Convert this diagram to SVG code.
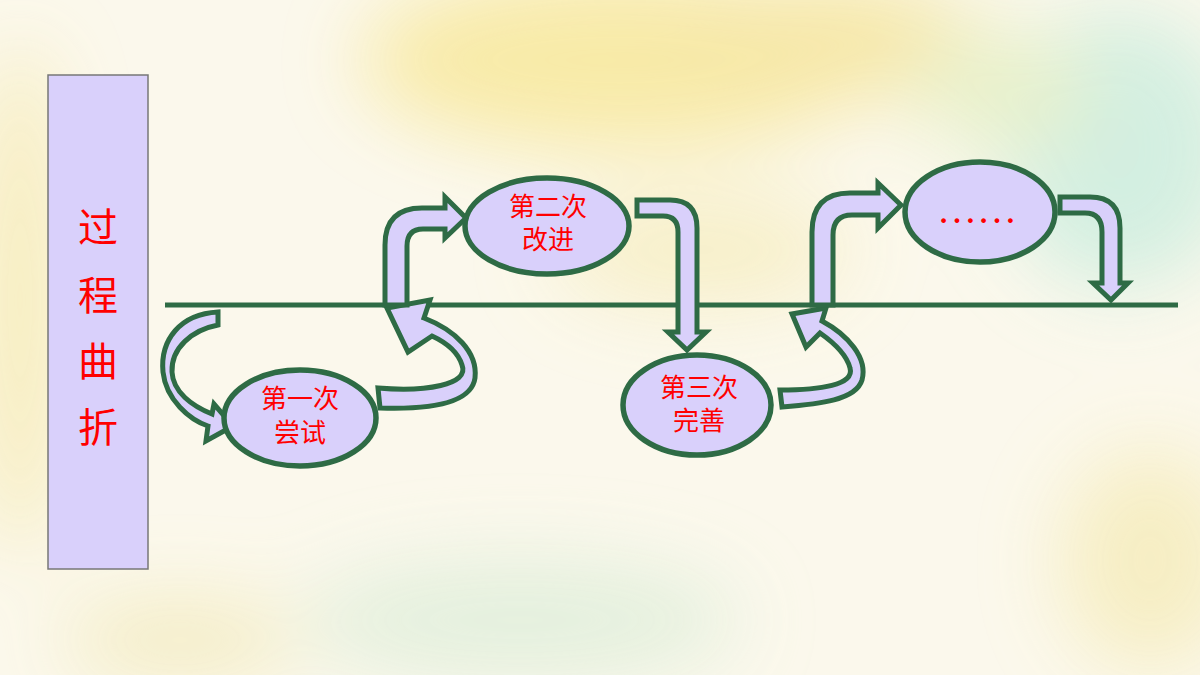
<svg xmlns="http://www.w3.org/2000/svg" width="1200" height="675" viewBox="0 0 1200 675">
<defs>
<filter id="blur" x="-50%" y="-50%" width="200%" height="200%"><feGaussianBlur stdDeviation="40"/></filter>
<style>
.arr{fill:#d9d0fb;stroke:#2e6b45;stroke-width:5;stroke-linejoin:miter}
.node{fill:#d9d0fb;stroke:#2e6b45;stroke-width:5.5}
.lbl{font-family:"Liberation Serif","Noto Sans CJK SC",serif;font-size:26px;fill:#ff0000;text-anchor:middle}
.side{font-family:"Liberation Serif","Noto Sans CJK SC",serif;font-size:40px;fill:#ff0000;text-anchor:middle}
</style>
</defs>
<g id="background">
<rect x="0" y="0" width="1200" height="675" fill="#fbf8ec"/>
<g filter="url(#blur)" opacity="0.9">
<ellipse cx="620" cy="60" rx="260" ry="90" fill="#f8e9a0"/>
<ellipse cx="820" cy="40" rx="160" ry="60" fill="#f6e6a0"/>
<ellipse cx="1120" cy="150" rx="120" ry="140" fill="#cfeee0"/>
<ellipse cx="1000" cy="90" rx="90" ry="60" fill="#e6f0c8"/>
<ellipse cx="1150" cy="560" rx="90" ry="110" fill="#f6edbf"/>
<ellipse cx="20" cy="300" rx="40" ry="260" fill="#f6eab0"/>
<ellipse cx="520" cy="620" rx="220" ry="60" fill="#e1efdc"/>
<ellipse cx="180" cy="640" rx="120" ry="40" fill="#f3ebbf"/>
<ellipse cx="700" cy="250" rx="150" ry="60" fill="#f7efc6"/>
</g>
</g>
<g id="side-box">
<rect x="48" y="75" width="100" height="494" fill="#d9d0fb" stroke="#777777" stroke-width="1.5"/>
<text class="side" x="98" y="242">过</text>
<text class="side" x="98" y="310">程</text>
<text class="side" x="98" y="376">曲</text>
<text class="side" x="98" y="442">折</text>
</g>
<g id="connectors">
<line x1="165" y1="305" x2="1178" y2="305" stroke="#2e6b45" stroke-width="5"/>
<path class="arr" d="M218 312 C180 314 160 340 163 372 C166 400 190 420 208 426 L206 441 L233 426 L214 404 L212 414 C192 406 173 392 172 372 C171 348 192 330 218 325 Z"/>
<path class="arr" d="M378 388 C425 392 470 385 462 365 C458 352 445 342 432 336 L408 352 L387 308 L430 300 L424 318 C455 330 478 352 475 378 C472 400 440 410 380 408 Z"/>
<path class="arr" d="M385 305 L385 245 Q385 208 422 208 L445 208 L445 197 L466 218 L445 238 L445 229 L423 229 Q407 229 407 246 L407 305 Z"/>
<path class="arr" d="M637 200 L670 200 Q697 200 697 228 L697 332 L706 332 L687 350 L668 332 L678 332 L678 232 Q678 216 663 216 L637 216 Z"/>
<path class="arr" d="M780 390 C820 390 855 385 850 368 C846 352 830 340 820 333 L806 347 L792 314 L826 308 L822 321 C848 335 868 358 862 380 C856 400 820 404 782 407 Z"/>
<path class="arr" d="M812 305 L812 232 Q812 193 850 193 L878 193 L878 183 L901 205 L878 228 L878 215 L852 215 Q833 215 833 235 L833 305 Z"/>
<path class="arr" d="M1060 197 L1090 197 Q1120 197 1120 228 L1120 283 L1128 283 L1111 300 L1093 283 L1102 283 L1102 232 Q1102 213 1085 213 L1060 213 Z"/>
</g>
<g id="node1">
<ellipse class="node" cx="300" cy="418" rx="76" ry="48"/>
<text class="lbl" x="300" y="408">第一次</text>
<text class="lbl" x="300" y="442">尝试</text>
</g>
<g id="node2">
<ellipse class="node" cx="547" cy="226" rx="82" ry="48"/>
<text class="lbl" x="548" y="216">第二次</text>
<text class="lbl" x="548" y="249">改进</text>
</g>
<g id="node3">
<ellipse class="node" cx="697" cy="405" rx="74" ry="50"/>
<text class="lbl" x="699" y="397">第三次</text>
<text class="lbl" x="699" y="430">完善</text>
</g>
<g id="node4">
<ellipse class="node" cx="980" cy="212" rx="75" ry="50"/>
<text x="977" y="223" font-family="Liberation Serif, serif" font-size="40" fill="#ff0000" text-anchor="middle">……</text>
</g>
</svg>
